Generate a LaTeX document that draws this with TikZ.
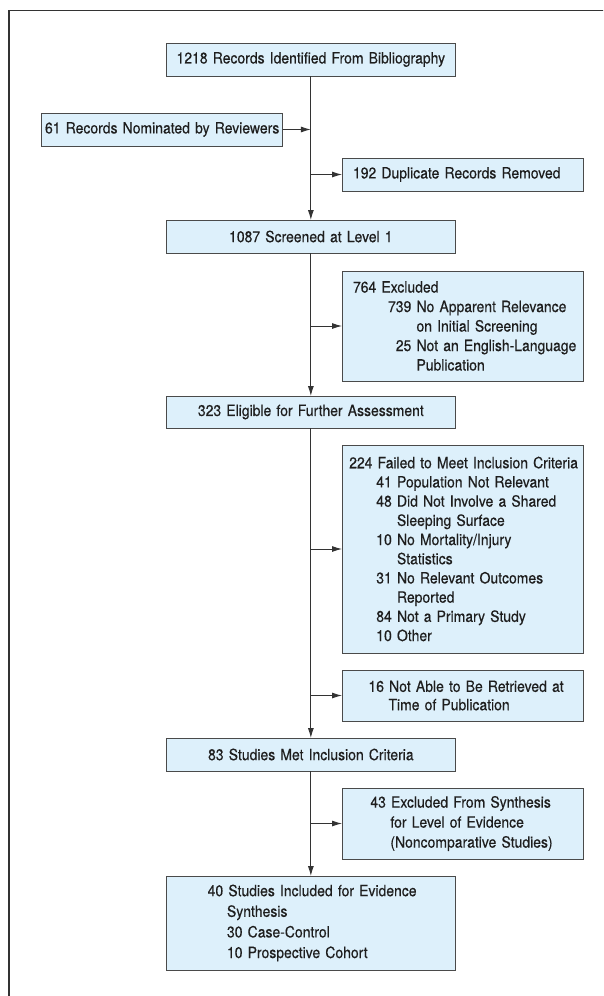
\documentclass[tikz,border=0pt]{standalone}
\usepackage{fontspec}
\setmainfont{TeX Gyre Heros}[FakeStretch=0.9,FakeBold=0.4]
\usetikzlibrary{arrows.meta}
\definecolor{boxfill}{HTML}{DDF0FB}
\definecolor{boxline}{HTML}{4A4A4A}
\definecolor{arrline}{HTML}{333333}
\definecolor{frameline}{HTML}{333333}
\definecolor{txt}{HTML}{1E1E1E}
\newcommand{\itm}[3]{\mbox{\hspace*{#1pt}\makebox[0pt][r]{#2\ }#3}}
\newcommand{\cnt}[2]{\mbox{\hspace*{#1pt}#2}}
\newcommand{\oneline}[1]{\mbox{#1}}
\tikzset{
  box/.style={draw=boxline, fill=boxfill, text=txt, line width=0.9pt, anchor=north west,
              inner ysep=0pt, outer sep=0pt},
  mainbox/.style={box, minimum width=288.3pt, text width=280.3pt, inner xsep=4pt,
              align=center, font=\fontsize{15.5}{19.5}\selectfont},
  sidebox/.style={box, minimum width=241pt, align=left},
  arr/.style={draw=arrline, line width=0.9pt, -{Latex[length=10pt,width=6pt]}},
}
\begin{document}
\begin{tikzpicture}[x=1pt,y=-1pt]
\useasboundingbox (0,0) rectangle (603,996);
\clip (0,0) rectangle (603,996);
\fill[white] (0,0) rectangle (603,996);
\draw[frameline, line width=1.1pt] (9,1010) -- (9,10.7) -- (620,10.7);

\node[mainbox, minimum height=33pt] (b1) at (166.7,43) {\oneline{1218 Records Identified From Bibliography}};
\node[sidebox, minimum height=33pt, text width=237pt, inner xsep=2pt, align=center,
      font=\fontsize{15.5}{19.5}\selectfont] (nom) at (41.7,113) {\oneline{61 Records Nominated by Reviewers}};
\node[sidebox, minimum height=33pt, text width=219pt, inner xsep=11pt,
      font=\fontsize{15.5}{19.5}\selectfont] (dup) at (342,158) {\oneline{192 Duplicate Records Removed}};
\node[mainbox, minimum height=33pt] (scr) at (166.7,220) {1087 Screened at Level 1};
\node[sidebox, minimum height=110pt, text width=219pt, inner xsep=11pt,
      font=\fontsize{15.5}{19.5}\selectfont] (ex764) at (342,271)
  {\oneline{764 Excluded}\\
   \itm{63.5}{739}{No Apparent Relevance}\\
   \cnt{63.5}{on Initial Screening}\\
   \itm{63.5}{25}{Not an English-Language}\\
   \cnt{63.5}{Publication}};
\node[mainbox, minimum height=32pt] (elig) at (166.7,396) {323 Eligible for Further Assessment};
\node[sidebox, minimum height=208pt, text width=226.6pt, inner xsep=7.2pt,
      font=\fontsize{15.5}{19.2}\selectfont] (f224) at (342,445)
  {\oneline{224 Failed to Meet Inclusion Criteria}\\
   \itm{47.8}{41}{Population Not Relevant}\\
   \itm{47.8}{48}{Did Not Involve a Shared}\\
   \cnt{47.8}{Sleeping Surface}\\
   \itm{47.8}{10}{No Mortality/Injury}\\
   \cnt{47.8}{Statistics}\\
   \itm{47.8}{31}{No Relevant Outcomes}\\
   \cnt{47.8}{Reported}\\
   \itm{47.8}{84}{Not a Primary Study}\\
   \itm{47.8}{10}{Other}};
\node[sidebox, minimum height=51pt, text width=188pt, inner xsep=26.5pt,
      font=\fontsize{15.5}{18.4}\selectfont] (n16) at (342,670)
  {\oneline{16 Not Able to Be Retrieved at}\\
   \cnt{20}{Time of Publication}};
\node[mainbox, minimum height=33pt] (m83) at (166.7,738) {83 Studies Met Inclusion Criteria};
\node[sidebox, minimum height=71pt, text width=184.2pt, inner xsep=28.4pt,
      font=\fontsize{15.5}{20}\selectfont] (ex43) at (342,788)
  {\oneline{43 Excluded From Synthesis}\\
   \cnt{20}{for Level of Evidence}\\
   \cnt{20}{(Noncomparative Studies)}};
\node[mainbox, minimum height=94pt, text width=206.3pt, inner xsep=41pt, align=left,
      font=\fontsize{15.5}{20.6}\selectfont] (i40) at (166.7,876)
  {\oneline{40 Studies Included for Evidence}\\
   \cnt{19.3}{Synthesis}\\
   \cnt{19.3}{30 Case-Control}\\
   \cnt{19.3}{10 Prospective Cohort}};

% main flow
\draw[arr] (b1.south) -- (scr.north);
\draw[arr] (scr.south) -- (elig.north);
\draw[arr] (elig.south) -- (m83.north);
\draw[arr] (m83.south) -- (i40.north);
% side arrows
\draw[arr] (nom.east) -- (nom.east -| b1.south);
\draw[arr] (b1.south |- dup.west) -- (dup.west);
\draw[arr] (b1.south |- ex764.west) -- (ex764.west);
\draw[arr] (b1.south |- f224.west) -- (f224.west);
\draw[arr] (b1.south |- n16.west) -- (n16.west);
\draw[arr] (b1.south |- ex43.west) -- (ex43.west);
\end{tikzpicture}
\end{document}
